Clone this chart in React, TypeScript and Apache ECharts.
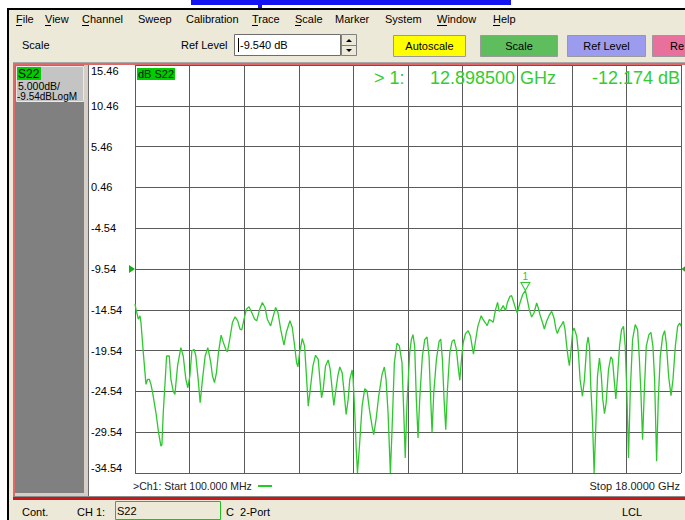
import React, { useEffect, useRef } from 'react';
import * as echarts from 'echarts';

// ---- data ----
const startFreq = 0.1; // GHz
const stopFreq = 18.0; // GHz
const refLevel = -9.54; // dB
const scaleTop = 15.46;
const scaleBottom = -34.54;
const markerFreq = 12.8985; // GHz
const markerDb = -12.174;

// tick labels from bottom gridline to top gridline
const yTickLabels = ['-34.54', '-29.54', '-24.54', '-19.54', '-14.54', '-9.54', '-4.54', '0.46', '5.46', '10.46', '15.46'];
const xDivisions = ['', '', '', '', '', '', '', '', '', '', ''];

const freqGHz = [
  0.100, 0.133, 0.209, 0.263, 0.296, 0.372, 0.460, 0.514, 0.569, 0.623, 0.678, 0.787, 0.874, 0.950, 0.983,
  1.026, 1.092, 1.135, 1.223, 1.277, 1.353, 1.408, 1.495, 1.604, 1.681, 1.768, 1.833, 1.899, 1.964, 2.040,
  2.095, 2.171, 2.236, 2.313, 2.400, 2.487, 2.585, 2.640, 2.705, 2.771, 2.836, 2.923, 2.999, 3.076, 3.130,
  3.206, 3.294, 3.381, 3.468, 3.544, 3.599, 3.675, 3.752, 3.839, 3.926, 4.024, 4.090, 4.188, 4.275, 4.362,
  4.438, 4.547, 4.635, 4.711, 4.787, 4.875, 4.984, 5.060, 5.180, 5.256, 5.333, 5.398, 5.442, 5.496, 5.584,
  5.660, 5.714, 5.780, 5.846, 5.933, 6.019, 6.107, 6.161, 6.216, 6.270, 6.346, 6.433, 6.499, 6.564, 6.619,
  6.673, 6.750, 6.815, 6.891, 6.946, 7.022, 7.088, 7.142, 7.219, 7.251, 7.306, 7.349, 7.393, 7.458, 7.545,
  7.632, 7.709, 7.785, 7.872, 7.927, 8.003, 8.090, 8.199, 8.276, 8.330, 8.396, 8.472, 8.527, 8.603, 8.690,
  8.766, 8.853, 8.919, 8.960, 9.017, 9.105, 9.160, 9.214, 9.269, 9.324, 9.379, 9.433, 9.521, 9.598, 9.674,
  9.740, 9.795, 9.839, 9.894, 9.981, 10.069, 10.124, 10.178, 10.233, 10.288, 10.343, 10.419, 10.496, 10.562, 10.638,
  10.693, 10.748, 10.803, 10.858, 10.934, 11.022, 11.099, 11.153, 11.197, 11.252, 11.339, 11.449, 11.515, 11.591, 11.646,
  11.712, 11.767, 11.843, 11.920, 11.986, 12.041, 12.095, 12.172, 12.249, 12.304, 12.391, 12.446, 12.523, 12.588, 12.632,
  12.720, 12.808, 12.8985, 12.939, 13.027, 13.103, 13.180, 13.268, 13.322, 13.377, 13.465, 13.520, 13.596, 13.673, 13.761,
  13.837, 13.903, 13.947, 14.013, 14.089, 14.144, 14.199, 14.254, 14.308, 14.341, 14.385, 14.451, 14.495, 14.582, 14.637,
  14.692, 14.769, 14.834, 14.911, 14.955, 14.999, 15.042, 15.097, 15.152, 15.207, 15.262, 15.327, 15.382, 15.437, 15.492,
  15.546, 15.623, 15.700, 15.755, 15.809, 15.864, 15.919, 15.985, 16.050, 16.116, 16.171, 16.226, 16.280, 16.335, 16.412,
  16.499, 16.576, 16.631, 16.686, 16.740, 16.795, 16.861, 16.949, 17.014, 17.080, 17.135, 17.201, 17.255, 17.321, 17.398,
  17.464, 17.518, 17.595, 17.672, 17.737, 17.814, 17.890, 17.956, 18.000,
];

const s22dB = [
  -13.84, -14.46, -15.69, -15.28, -16.10, -19.79, -23.68, -23.06, -23.06, -23.68, -24.70, -27.16, -29.62, -31.26, -31.06,
  -27.16, -23.06, -20.20, -20.20, -23.06, -24.50, -24.91, -21.42, -19.17, -20.20, -23.06, -24.09, -22.65, -19.58, -19.38,
  -20.20, -23.06, -25.93, -23.06, -20.20, -19.17, -21.02, -22.65, -23.47, -22.24, -19.79, -17.65, -18.56, -19.38, -19.70,
  -18.15, -16.10, -15.40, -15.89, -16.92, -17.00, -15.69, -14.46, -14.17, -14.87, -15.69, -15.89, -14.46, -13.64, -14.25,
  -15.69, -16.51, -15.28, -14.25, -14.87, -16.92, -18.88, -17.33, -15.89, -16.71, -18.97, -21.02, -21.51, -19.79, -18.06,
  -18.97, -22.24, -26.34, -24.29, -21.42, -20.11, -20.61, -23.06, -25.32, -24.29, -21.42, -20.69, -21.83, -24.29, -26.26,
  -24.70, -22.65, -21.55, -22.24, -24.29, -27.37, -25.52, -23.06, -21.92, -23.06, -27.16, -31.26, -34.54, -31.26, -26.34,
  -24.21, -24.50, -26.75, -28.80, -29.83, -27.98, -25.11, -22.45, -21.55, -23.06, -27.16, -34.54, -29.21, -21.02, -18.64,
  -18.97, -21.02, -27.98, -32.70, -25.96, -19.83, -18.20, -17.59, -19.02, -25.55, -30.25, -25.55, -20.24, -18.20, -17.87,
  -20.24, -25.55, -29.56, -24.74, -20.65, -18.40, -18.12, -20.65, -25.55, -29.23, -24.33, -19.83, -18.40, -18.20, -19.43,
  -21.47, -23.18, -20.65, -18.61, -17.46, -17.10, -17.79, -19.02, -19.96, -18.61, -16.57, -15.26, -15.75, -16.16, -16.48,
  -15.75, -15.83, -16.08, -14.52, -13.63, -14.73, -14.52, -14.03, -14.65, -13.71, -12.89, -12.81, -13.71, -14.52, -14.93,
  -13.71, -12.69, -12.174, -12.89, -14.52, -15.42, -14.93, -13.71, -14.32, -15.14, -16.16, -16.89, -15.95, -15.26, -14.73,
  -15.54, -16.97, -17.46, -16.77, -16.36, -15.95, -16.97, -19.02, -20.65, -21.39, -19.83, -17.18, -16.77, -17.79, -19.83,
  -23.10, -25.14, -23.10, -18.81, -17.87, -19.02, -23.92, -28.00, -34.54, -28.82, -22.69, -20.45, -22.29, -25.55, -27.27,
  -25.96, -21.88, -20.32, -20.65, -23.10, -25.47, -22.69, -19.02, -16.97, -16.57, -19.02, -24.74, -32.70, -24.74, -18.20,
  -16.36, -16.97, -20.24, -24.74, -30.46, -24.74, -19.02, -17.59, -17.30, -19.02, -23.10, -33.11, -25.55, -20.24, -17.79,
  -17.10, -18.61, -22.69, -25.06, -23.10, -19.02, -16.57, -16.16, -16.57,
];

const menuItems = ['File', 'View', 'Channel', 'Sweep', 'Calibration', 'Trace', 'Scale', 'Marker', 'System', 'Window', 'Help'];

// ---- layout / style ----
const FONT = '"Liberation Sans", Arial, sans-serif';
const TRACE = '#2ec82e';
const BEIGE = '#ECE9D8';
const GRIDC = '#5a5a5a';
const menuX = [16, 45, 82, 138, 186, 252, 295, 335, 385, 437, 493];
const underlined = [0, 1, 2, 5, 6, 9, 10];

function txt(text: string, x: number, y: number, o: any = {}) {
  return {
    type: 'text', x, y, silent: true, z: 20,
    style: {
      text, fill: o.fill || '#000', font: `${o.size || 11}px ${o.font || FONT}`,
      textAlign: o.align || 'left', textVerticalAlign: 'middle',
    },
  };
}
function rect(x: number, y: number, w: number, h: number, fill: string, stroke?: string) {
  return {
    type: 'rect', silent: true, z: 10,
    shape: { x, y, width: w, height: h },
    style: { fill, stroke: stroke || null, lineWidth: 1 },
  };
}
function line(x1: number, y1: number, x2: number, y2: number, stroke: string, w = 1) {
  return { type: 'line', silent: true, z: 15, shape: { x1, y1, x2, y2 }, style: { stroke, lineWidth: w } };
}

function buildGraphic() {
  const g: any[] = [];
  // top strip
  g.push(rect(191, 0, 320, 5, '#1414F0'));
  g.push(rect(258, 5, 4, 3, '#1414F0'));
  // beige areas
  g.push(rect(9, 10, 676, 53, BEIGE));
  g.push(rect(9, 63, 4, 437, BEIGE));
  g.push(rect(9, 500, 676, 20, BEIGE));
  // black frame
  g.push(rect(7, 8, 678, 2, '#000'));
  g.push(rect(7, 8, 2, 512, '#000'));
  // menu
  menuItems.forEach((m, i) => {
    g.push(txt(m, menuX[i], 19, { size: 11 }));
  });
  underlined.forEach((i) => {
    const w = menuItems[i][0] === 'W' ? 10 : menuItems[i][0] === 'C' || menuItems[i][0] === 'H' ? 7 : 6;
    g.push(line(menuX[i], 25.5, menuX[i] + w, 25.5, '#000'));
  });
  // toolbar
  g.push(txt('Scale', 22, 45));
  g.push(txt('Ref Level', 181, 45));
  g.push(rect(234.5, 34.5, 106, 21, '#fff', '#6d6d6d'));
  g.push(line(238.5, 38, 238.5, 52, '#000'));
  g.push(txt('-9.540 dB', 240, 45));
  g.push(rect(341.5, 34.5, 15, 21, BEIGE, '#808080'));
  g.push(line(341.5, 45.5, 356.5, 45.5, '#808080'));
  g.push({ type: 'polygon', silent: true, z: 15, shape: { points: [[346, 42], [352, 42], [349, 39]] }, style: { fill: '#000' } });
  g.push({ type: 'polygon', silent: true, z: 15, shape: { points: [[346, 49], [352, 49], [349, 52]] }, style: { fill: '#000' } });
  const btns: [string, number, number, string][] = [
    ['Autoscale', 393.5, 72, '#FFFF00'],
    ['Scale', 480.5, 77, '#5EBE5E'],
    ['Ref Level', 567.5, 78, '#9C9CEE'],
  ];
  btns.forEach(([t, x, w, c]) => {
    g.push(rect(x, 35.5, w, 21, c, '#9a9a9a'));
    g.push(txt(t, x + w / 2, 46, { align: 'center' }));
  });
  g.push(rect(652.5, 35.5, 40, 21, '#E8709C', '#9a9a9a'));
  g.push(txt('Re', 670, 46));
  // chart window frame
  g.push(rect(13, 62, 672, 1, '#A8A8A8'));
  g.push(rect(13, 63, 672, 2, '#E06868'));
  g.push(rect(13, 63, 2, 436, '#E06868'));
  g.push(rect(13, 496, 672, 1, '#8a8a8a'));
  g.push(rect(13, 497, 672, 3, '#C81818'));
  // left gray panel
  g.push(rect(15, 65, 69, 428, '#808080'));
  g.push(rect(15, 493, 74, 3, '#D4D0C8'));
  g.push(rect(84, 65, 4, 431, '#D4D0C8'));
  g.push(rect(88, 65, 1, 431, '#6a6a6a'));
  g.push(rect(16.5, 66.5, 67, 35, '#C4C4C4', '#E8E8E8'));
  g.push(rect(17, 67, 24, 13, '#00CC00'));
  g.push(txt('S22', 18, 73.5, { size: 12 }));
  g.push(txt('5.000dB/', 18, 85.5, { size: 10.5 }));
  g.push(txt('-9.54dBLogM', 17, 96.5, { size: 10 }));
  // plot annotations
  g.push(rect(137, 68, 38, 12, '#00CC00'));
  g.push(txt('dB S22', 138, 74, { size: 11, fill: '#002200' }));
  g.push(txt('> 1:', 374, 78, { size: 18, fill: '#33CC33' }));
  g.push(txt('12.898500 GHz', 430, 78, { size: 18, fill: '#33CC33' }));
  g.push(txt('-12.174 dB', 680, 78, { size: 18, fill: '#33CC33', align: 'right' }));
  g.push(txt('>Ch1: Start 100.000 MHz', 133, 486, { fill: '#222', size: 10.5 }));
  g.push(line(258, 486, 272, 486, '#22CC22', 2));
  g.push(txt('Stop 18.0000 GHz', 680, 486, { fill: '#222', size: 11, align: 'right' }));
  // status bar
  g.push(txt('Cont.', 22, 512));
  g.push(txt('CH 1:', 77, 512));
  g.push(rect(115.5, 501.5, 105, 18, 'rgba(0,0,0,0)', '#20C020'));
  g.push(txt('S22', 117, 511));
  g.push(txt('C  2-Port', 226, 512));
  g.push(txt('LCL', 622, 512));
  return g;
}

export default function App() {
  const ref = useRef<HTMLDivElement>(null);
  useEffect(() => {
    const chart = echarts.init(ref.current!, null, { renderer: 'svg', width: 685, height: 520 });
    const option: any = {
      animation: false,
      backgroundColor: '#ffffff',
      grid: { left: 135, top: 65, width: 546, height: 408, containLabel: false },
      xAxis: [
        {
          type: 'category', data: xDivisions, boundaryGap: false,
          axisLine: { show: false }, axisTick: { show: false }, axisLabel: { show: false, interval: 0 },
          splitLine: { show: true, interval: 0, lineStyle: { color: GRIDC, width: 1 } },
        },
        { type: 'value', min: startFreq, max: stopFreq, show: false },
      ],
      yAxis: [
        {
          // division axis: one tick per graticule line, labelled from yTickLabels
          type: 'value', min: 0, max: yTickLabels.length - 1, interval: 1, position: 'left', offset: 44,
          axisLine: { show: false }, axisTick: { show: false },
          axisLabel: {
            inside: true, margin: 0, align: 'left', color: '#000', fontSize: 11, fontFamily: FONT,
            formatter: (v: number) => yTickLabels[Math.round(v)] ?? '',
            verticalAlignMaxLabel: 'top', verticalAlignMinLabel: 'bottom',
            showMinLabel: true, showMaxLabel: true,
          },
          splitLine: { show: true, lineStyle: { color: GRIDC, width: 1 } },
        },
        { type: 'value', min: scaleBottom, max: scaleTop, show: false },
      ],
      series: [
        {
          type: 'line', xAxisIndex: 1, yAxisIndex: 1,
          data: freqGHz.map((f, i) => [f, s22dB[i]]),
          showSymbol: false, symbol: 'none', z: 5,
          lineStyle: { color: TRACE, width: 1.3 },
          markPoint: {
            silent: true,
            data: [
              {
                coord: [markerFreq, markerDb], symbol: 'path://M0 0L10 0L5 9Z', symbolSize: [9, 8], symbolOffset: [0, -4],
                itemStyle: { color: 'rgba(255,255,255,0)', borderColor: TRACE, borderWidth: 1 },
                label: { show: true, formatter: '1', position: 'top', distance: 1, color: TRACE, fontSize: 10, fontFamily: FONT },
              },
              {
                coord: [startFreq, refLevel], symbol: 'path://M0 0L6 4L0 8Z', symbolSize: [6, 8], symbolOffset: [-3, 0],
                itemStyle: { color: '#10B010' }, label: { show: false },
              },
              {
                coord: [stopFreq, refLevel], symbol: 'path://M6 0L0 4L6 8Z', symbolSize: [5, 8], symbolOffset: [3, 0],
                itemStyle: { color: '#10B010' }, label: { show: false },
              },
            ],
          },
        },
      ],
      graphic: { elements: buildGraphic() },
    };
    chart.setOption(option);
    return () => chart.dispose();
  }, []);
  return <div ref={ref} style={{ position: 'absolute', left: 0, top: 0, width: 685, height: 520 }} />;
}
